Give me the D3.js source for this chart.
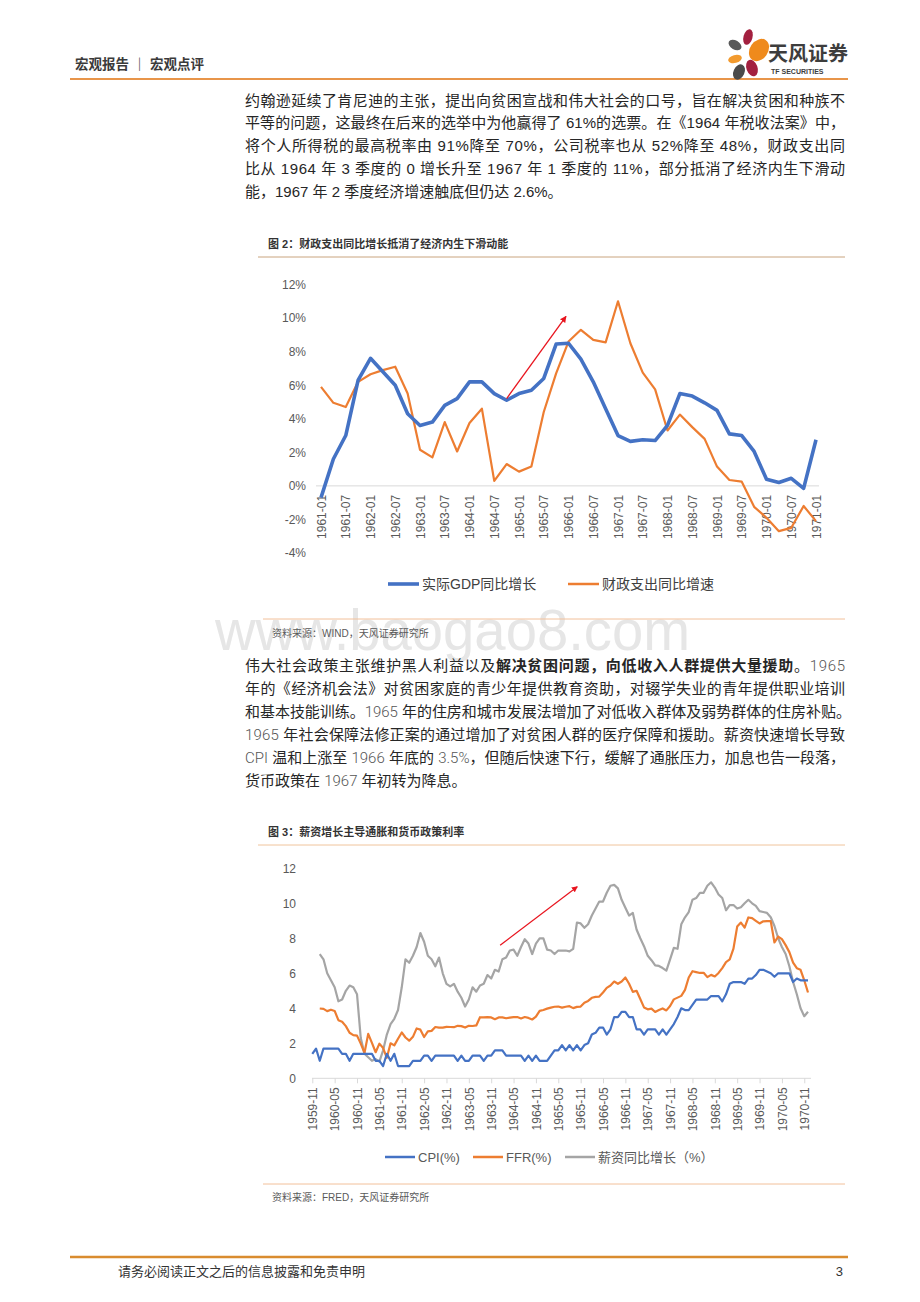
<!DOCTYPE html>
<html>
<head>
<meta charset="utf-8">
<script src="https://cdn.jsdelivr.net/npm/d3@7"></script>
<style>
  body { margin: 0; background: #fff; }
  svg text { font-family: "Liberation Sans", "Noto Sans CJK SC", sans-serif; }
</style>
</head>
<body>
<svg id="page"></svg>
<script>
// ---------- 数据 ----------
// 图2：季度，1961-01 ~ 1971-01
const quarters = [];
for (let y = 1961; y <= 1971; y++) {
  ["01", "04", "07", "10"].forEach(m => { if (!(y === 1971 && m !== "01")) quarters.push(y + "-" + m); });
}
const quarterTicks = quarters.filter((d, i) => i % 2 === 0);
const gdpYoy = [-0.7, 1.6, 3.0, 6.3, 7.6, 6.8, 6.0, 4.3, 3.6, 3.8, 4.8, 5.2, 6.2, 6.2, 5.5, 5.1, 5.5, 5.7, 6.4, 8.45,
  8.5, 7.55, 6.2, 4.6, 3.0, 2.65, 2.75, 2.7, 3.6, 5.5, 5.35, 4.95, 4.5, 3.1, 3.0, 2.05, 0.4, 0.2, 0.45, -0.15, 2.75];
const fiscalYoy = [5.9, 4.95, 4.7, 6.2, 6.65, 6.9, 7.1, 5.5, 2.15, 1.7, 3.8, 2.05, 3.75, 4.6, 0.3, 1.3, 0.85, 1.15, 4.4, 6.7,
  8.6, 9.3, 8.7, 8.55, 11.0, 8.5, 6.75, 5.75, 3.3, 4.25, 3.5, 2.8, 1.15, 0.35, 0.25, -1.25, -1.9, -2.7, -2.5, -1.2, -2.1];
const yTicks1 = [-4, -2, 0, 2, 4, 6, 8, 10, 12];

// 图3：月度，1959-11 ~ 1970-12
const months = ["1959-11", "1959-12"];
for (let y = 1960; y <= 1970; y++) for (let m = 1; m <= 12; m++) months.push(y + "-" + (m < 10 ? "0" : "") + m);
const monthTicks = months.filter((d, i) => i % 6 === 0);
const cpi = [1.4, 1.7,
  1.0, 1.7, 1.7, 1.7, 1.7, 1.7, 1.4, 1.4, 1.0, 1.4, 1.4, 1.4,
  1.4, 1.4, 1.4, 1.0, 1.0, 0.7, 1.4, 1.0, 1.4, 0.7, 0.7, 0.7,
  0.7, 1.0, 1.0, 1.0, 1.3, 1.3, 1.0, 1.3, 1.3, 1.3, 1.3, 1.3,
  1.3, 1.0, 1.3, 1.0, 1.0, 1.3, 1.3, 1.3, 1.0, 1.3, 1.3, 1.6,
  1.6, 1.6, 1.3, 1.3, 1.3, 1.3, 1.3, 1.0, 1.3, 1.0, 1.3, 1.0,
  1.0, 1.0, 1.3, 1.6, 1.6, 1.9, 1.6, 1.9, 1.6, 1.9, 1.6, 1.9,
  2.0, 2.5, 2.6, 2.9, 2.9, 2.5, 2.8, 3.5, 3.5, 3.8, 3.8, 3.5,
  3.5, 2.8, 2.8, 2.5, 2.8, 2.8, 2.8, 2.5, 2.8, 2.5, 2.8, 3.1,
  3.5, 4.0, 3.9, 3.9, 4.2, 4.5, 4.5, 4.5, 4.5, 4.7, 4.7, 4.7,
  4.4, 4.8, 5.4, 5.5, 5.5, 5.5, 5.4, 5.7, 5.7, 5.9, 6.2, 6.2,
  6.1, 6.0, 5.8, 6.0, 6.0, 6.0, 6.0, 5.5, 5.7, 5.6, 5.6, 5.6];
const ffr = [null, null,
  3.99, 3.97, 3.84, 3.92, 3.85, 3.32, 3.23, 2.98, 2.60, 2.47, 2.44, 1.98,
  1.45, 2.54, 2.02, 1.49, 1.98, 1.73, 1.17, 2.00, 1.88, 2.26, 2.62, 2.33,
  2.15, 2.37, 2.85, 2.78, 2.36, 2.68, 2.71, 2.93, 2.90, 2.90, 2.94, 2.93,
  2.92, 3.00, 2.98, 2.90, 3.00, 2.99, 3.02, 3.49, 3.48, 3.50, 3.48, 3.38,
  3.48, 3.48, 3.43, 3.47, 3.50, 3.50, 3.42, 3.50, 3.45, 3.36, 3.52, 3.85,
  3.90, 3.98, 4.04, 4.09, 4.10, 4.04, 4.09, 4.12, 4.01, 4.08, 4.10, 4.32,
  4.42, 4.60, 4.65, 4.67, 4.90, 5.17, 5.30, 5.53, 5.40, 5.53, 5.76, 5.40,
  4.94, 5.00, 4.53, 4.05, 3.94, 3.98, 3.79, 3.90, 3.99, 3.88, 4.13, 4.51,
  4.61, 4.71, 5.05, 5.76, 6.12, 6.07, 6.02, 6.03, 5.78, 5.91, 5.82, 6.02,
  6.30, 6.64, 6.79, 7.41, 8.67, 8.90, 8.61, 9.19, 9.15, 9.00, 8.85, 8.97,
  8.98, 8.98, 7.76, 8.10, 7.95, 7.61, 7.21, 6.61, 6.29, 6.20, 5.60, 4.90];
const wage = [null, null,
  7.1, 6.8, 6.0, 5.6, 5.2, 4.4, 4.5, 5.0, 5.3, 5.2, 4.8, 2.3,
  1.4, 1.2, 1.0, 1.1, 0.95, 1.6, 2.5, 3.1, 3.4, 3.9, 5.2, 6.8,
  6.6, 7.0, 7.5, 8.3, 7.8, 7.0, 6.8, 6.4, 6.9, 6.0, 5.4, 5.25,
  5.4, 4.95, 4.6, 4.1, 4.5, 5.2, 4.95, 5.3, 5.4, 5.9, 5.7, 6.2,
  6.1, 6.8, 6.9, 7.3, 7.35, 7.0, 7.5, 7.95, 7.7, 7.1, 7.7, 8.0,
  8.0, 7.35, 7.3, 7.1, 7.3, 7.3, 7.3, 7.25, 7.4, 8.9, 8.85, 8.6,
  8.8, 9.3, 9.7, 10.1, 10.1, 10.6, 11.0, 11.05, 10.85, 10.2, 9.75, 9.3,
  9.45, 8.5, 8.0, 7.55, 7.0, 6.75, 6.45, 6.42, 6.3, 6.15, 6.8, 7.45,
  7.4, 8.8, 9.2, 9.5, 10.2, 10.3, 10.6, 10.6, 11.0, 11.2, 10.9, 10.5,
  10.3, 9.6, 9.9, 9.9, 9.7, 9.77, 10.0, 10.2, 10.0, 9.85, 9.55, 9.5,
  9.45, 9.2, 8.7, 8.0, 7.5, 7.1, 6.4, 5.5, 4.8, 4.0, 3.55, 3.8];
const yTicks2 = [0, 2, 4, 6, 8, 10, 12];

// ---------- 页面 ----------
const W = 920, H = 1302;
const svg = d3.select("#page").attr("width", W).attr("height", H);
svg.append("rect").attr("width", W).attr("height", H).attr("fill", "#fff");

// 页眉
svg.append("text").attr("x", 75).attr("y", 69).attr("font-size", 13.5).attr("font-weight", "bold")
  .attr("fill", "#3a3a3a").text("宏观报告 ｜ 宏观点评");
svg.append("line").attr("x1", 70).attr("x2", 848).attr("y1", 79).attr("y2", 79)
  .attr("stroke", "#e8954a").attr("stroke-width", 2);

// logo
const petals = [
  [748, 37, 4.5, 8, 15, "#a3203f"],
  [759, 50, 9, 12, 35, "#ef8a1c"],
  [735, 45, 7, 4.5, 30, "#595959"],
  [735, 59, 7, 4, -15, "#f29a2e"],
  [752, 68, 5.5, 8.5, -20, "#a3203f"],
  [739, 72, 5.5, 8, 25, "#4a4a4a"]
];
svg.selectAll(".petal").data(petals).enter().append("ellipse")
  .attr("cx", d => d[0]).attr("cy", d => d[1]).attr("rx", d => d[2]).attr("ry", d => d[3])
  .attr("transform", d => `rotate(${d[4]},${d[0]},${d[1]})`).attr("fill", d => d[5]);
svg.append("text").attr("x", 768).attr("y", 61).attr("font-size", 20).attr("font-weight", "bold")
  .attr("fill", "#3d3d3d").text("天风证券");
svg.append("text").attr("x", 771).attr("y", 74).attr("font-size", 7).attr("font-weight", "bold")
  .attr("fill", "#3d3d3d").text("TF SECURITIES");

// 正文
const p1 = [
  "约翰逊延续了肯尼迪的主张，提出向贫困宣战和伟大社会的口号，旨在解决贫困和种族不",
  "平等的问题，这最终在后来的选举中为他赢得了 61%的选票。在《1964 年税收法案》中，",
  "将个人所得税的最高税率由 91%降至 70%，公司税率也从 52%降至 48%，财政支出同",
  "比从 1964 年 3 季度的 0 增长升至 1967 年 1 季度的 11%，部分抵消了经济内生下滑动",
  "能，1967 年 2 季度经济增速触底但仍达 2.6%。"
];
p1.forEach((t, i) => {
  const tx = svg.append("text").attr("x", 245).attr("y", 105.5 + i * 22.8).attr("font-size", 15)
    .attr("fill", "#262626").text(t);
  if (i < 4) tx.attr("textLength", 600).attr("lengthAdjust", "spacing");
});

// 水印
svg.append("text").attr("x", 215).attr("y", 650).attr("font-size", 58).attr("fill", "#e6e6e6")
  .attr("textLength", 475).attr("lengthAdjust", "spacingAndGlyphs").text("www.baogao8.com");

const p2 = [
  [["伟大社会政策主张维护黑人利益以及", ""], ["解决贫困问题，向低收入人群提供大量援助", "b"], ["。", ""], ["1965", "n"]],
  [["年的《经济机会法》对贫困家庭的青少年提供教育资助，对辍学失业的青年提供职业培训", ""]],
  [["和基本技能训练。", ""], ["1965", "n"], [" 年的住房和城市发展法增加了对低收入群体及弱势群体的住房补贴。", ""]],
  [["1965", "n"], [" 年社会保障法修正案的通过增加了对贫困人群的医疗保障和援助。薪资快速增长导致", ""]],
  [["CPI", "n"], [" 温和上涨至 ", ""], ["1966", "n"], [" 年底的 ", ""], ["3.5%", "n"], ["，但随后快速下行，缓解了通胀压力，加息也告一段落，", ""]],
  [["货币政策在 ", ""], ["1967", "n"], [" 年初转为降息。", ""]]
];
p2.forEach((segs, i) => {
  const tx = svg.append("text").attr("x", 245).attr("y", 671 + i * 23).attr("font-size", 15).attr("fill", "#262626");
  segs.forEach(s => {
    const sp = tx.append("tspan").text(s[0]);
    if (s[1] === "b") sp.attr("font-weight", "bold");
    if (s[1] === "n") sp.attr("fill", "#555").attr("font-family", "Roboto, 'Noto Sans CJK SC'").attr("font-weight", 300);
  });
  if (i < 5) tx.attr("textLength", i === 2 ? 606 : 600).attr("lengthAdjust", "spacing");
});

// ---------- 图2 ----------
svg.append("text").attr("x", 268).attr("y", 248).attr("font-size", 11).attr("font-weight", "bold")
  .attr("fill", "#333").text("图 2：财政支出同比增长抵消了经济内生下滑动能");
svg.append("line").attr("x1", 258).attr("x2", 845).attr("y1", 257).attr("y2", 257)
  .attr("stroke", "#c9a47e").attr("stroke-width", 1);

const c1 = svg.append("g");
const x1 = d3.scalePoint().domain(quarters).range([321, 816]);
const y1 = d3.scaleLinear().domain([-4, 12]).range([553, 284.5]);

c1.append("line").attr("x1", 316).attr("x2", 819).attr("y1", y1(0)).attr("y2", y1(0))
  .attr("stroke", "#d9d9d9").attr("stroke-width", 1);

c1.append("g").attr("transform", "translate(306,0)")
  .call(d3.axisLeft(y1).tickValues(yTicks1).tickFormat(d => d + "%").tickSize(0).tickPadding(0))
  .call(g => g.select(".domain").remove())
  .attr("font-family", null).attr("font-size", 12)
  .selectAll("text").attr("fill", "#595959");

c1.append("g").attr("transform", `translate(0,${y1(0)})`)
  .call(d3.axisBottom(x1).tickValues(quarterTicks).tickSize(0))
  .call(g => g.select(".domain").remove())
  .attr("font-family", null).attr("font-size", 12)
  .selectAll("text").attr("fill", "#595959").attr("transform", "rotate(-90)")
  .attr("text-anchor", "end").attr("x", -9).attr("y", 0).attr("dy", "0.35em");

const line1 = vals => d3.line().x((d, i) => x1(quarters[i])).y(d => y1(d))(vals);
c1.append("path").attr("d", line1(fiscalYoy)).attr("fill", "none").attr("stroke", "#ed7d31")
  .attr("stroke-width", 2.2).attr("stroke-linejoin", "round");
c1.append("path").attr("d", line1(gdpYoy)).attr("fill", "none").attr("stroke", "#4472c4")
  .attr("stroke-width", 3.6).attr("stroke-linejoin", "round");

// 红色箭头
const defs = svg.append("defs");
defs.append("marker").attr("id", "arrow").attr("viewBox", "0 0 10 10").attr("refX", 9).attr("refY", 5)
  .attr("markerWidth", 5).attr("markerHeight", 5).attr("orient", "auto")
  .append("path").attr("d", "M0,0 L10,5 L0,10 z").attr("fill", "#e8141e");
const xi1 = d3.scaleLinear().domain([0, quarters.length - 1]).range(x1.range());
c1.append("line").attr("x1", xi1(15)).attr("y1", y1(5.2)).attr("x2", xi1(19.8)).attr("y2", y1(10.1))
  .attr("stroke", "#e8141e").attr("stroke-width", 1.3).attr("marker-end", "url(#arrow)");

// 图例
const leg1 = [["实际GDP同比增长", "#4472c4", 3.6, 388], ["财政支出同比增速", "#ed7d31", 2.5, 568]];
leg1.forEach(l => {
  svg.append("line").attr("x1", l[3]).attr("x2", l[3] + 31).attr("y1", 584).attr("y2", 584)
    .attr("stroke", l[1]).attr("stroke-width", l[2]);
  svg.append("text").attr("x", l[3] + 34).attr("y", 589).attr("font-size", 14).attr("fill", "#404040").text(l[0]);
});

svg.append("line").attr("x1", 263).attr("x2", 845).attr("y1", 619).attr("y2", 619)
  .attr("stroke", "#f2c09a").attr("stroke-width", 1);
svg.append("text").attr("x", 272).attr("y", 637).attr("font-size", 10).attr("fill", "#595959")
  .text("资料来源：WIND，天风证券研究所");

// ---------- 图3 ----------
svg.append("text").attr("x", 268).attr("y", 836).attr("font-size", 11).attr("font-weight", "bold")
  .attr("fill", "#333").text("图 3：薪资增长主导通胀和货币政策利率");
svg.append("line").attr("x1", 258).attr("x2", 845).attr("y1", 845).attr("y2", 845)
  .attr("stroke", "#f0c49c").attr("stroke-width", 1);

const c2 = svg.append("g");
const x2 = d3.scalePoint().domain(months).range([312.3, 808]);
const y2 = d3.scaleLinear().domain([0, 12]).range([1078.3, 868.3]);

c2.append("line").attr("x1", 312).attr("x2", 811).attr("y1", y2(0)).attr("y2", y2(0))
  .attr("stroke", "#d9d9d9").attr("stroke-width", 1);

c2.append("g").attr("transform", "translate(296,0)")
  .call(d3.axisLeft(y2).tickValues(yTicks2).tickSize(0).tickPadding(0))
  .call(g => g.select(".domain").remove())
  .attr("font-family", null).attr("font-size", 12)
  .selectAll("text").attr("fill", "#595959");

const ax2 = c2.append("g").attr("transform", `translate(0,${y2(0)})`)
  .call(d3.axisBottom(x2).tickValues(monthTicks).tickSize(5))
  .call(g => g.select(".domain").remove())
  .attr("font-family", null).attr("font-size", 12);
ax2.selectAll("line").attr("stroke", "#d9d9d9");
ax2.selectAll("text").attr("fill", "#595959").attr("transform", "rotate(-90)")
  .attr("text-anchor", "end").attr("x", -9).attr("y", 0).attr("dy", "0.35em");

const line2 = vals => d3.line().defined(d => d != null).x((d, i) => x2(months[i])).y(d => y2(d))(vals);
[[wage, "#a5a5a5"], [ffr, "#ed7d31"], [cpi, "#4472c4"]].forEach(s => {
  c2.append("path").attr("d", line2(s[0])).attr("fill", "none").attr("stroke", s[1])
    .attr("stroke-width", 2.2).attr("stroke-linejoin", "round");
});

const xi2 = d3.scaleLinear().domain([0, months.length - 1]).range(x2.range());
c2.append("line").attr("x1", xi2(50.4)).attr("y1", y2(7.6)).attr("x2", xi2(71.1)).attr("y2", y2(10.95))
  .attr("stroke", "#e8141e").attr("stroke-width", 1.2).attr("marker-end", "url(#arrow)");

const leg2 = [["CPI(%)", "#4472c4", 385], ["FFR(%)", "#ed7d31", 473], ["薪资同比增长（%）", "#a5a5a5", 565]];
leg2.forEach(l => {
  svg.append("line").attr("x1", l[2]).attr("x2", l[2] + 30).attr("y1", 1157).attr("y2", 1157)
    .attr("stroke", l[1]).attr("stroke-width", 2.5);
  svg.append("text").attr("x", l[2] + 33).attr("y", 1161.5).attr("font-size", 13).attr("fill", "#595959").text(l[0]);
});

svg.append("line").attr("x1", 263).attr("x2", 845).attr("y1", 1184).attr("y2", 1184)
  .attr("stroke", "#f2c09a").attr("stroke-width", 1);
svg.append("text").attr("x", 272).attr("y", 1201).attr("font-size", 10).attr("fill", "#595959")
  .text("资料来源：FRED，天风证券研究所");

// 页脚
svg.append("line").attr("x1", 70).attr("x2", 848).attr("y1", 1257).attr("y2", 1257)
  .attr("stroke", "#d98c2f").attr("stroke-width", 2.5);
svg.append("text").attr("x", 118).attr("y", 1276).attr("font-size", 13).attr("fill", "#333")
  .text("请务必阅读正文之后的信息披露和免责申明");
svg.append("text").attr("x", 843).attr("y", 1276).attr("font-size", 13).attr("fill", "#333")
  .attr("text-anchor", "end").text("3");
</script>
</body>
</html>
